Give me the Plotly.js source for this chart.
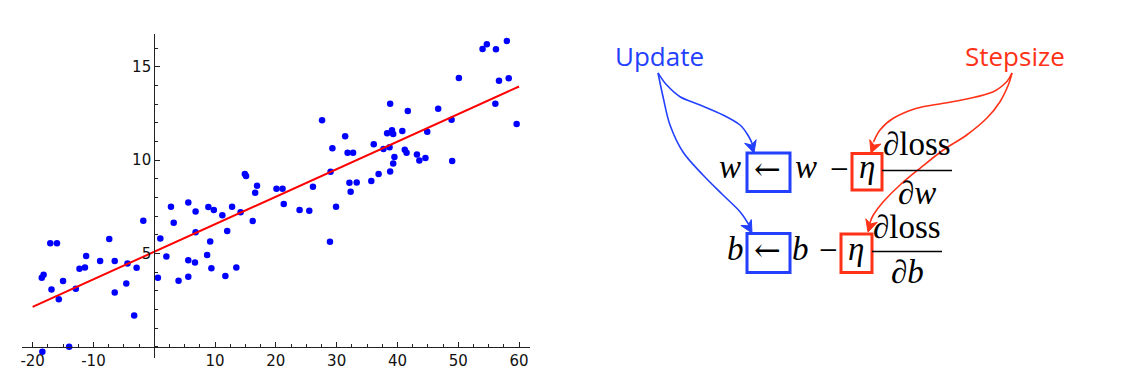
<!DOCTYPE html>
<html><head><meta charset="utf-8">
<script src="https://cdn.plot.ly/plotly-3.0.1.min.js"></script>
<style>html,body{margin:0;padding:0;background:#fff;}</style>
</head><body><div id="chart" style="width:1121px;height:385px;"></div>
<script>
// ---- data ----
const pointX = [-18.5,-18.2,-17.1,-16.0,-16.9,-15.7,-15.0,-18.4,-14.0,-12.9,-12.3,-11.4,-11.2,-8.9,-7.4,-6.5,-6.5,-4.6,-4.4,-3.3,-2.9,-1.8,
  0.6,1.0,2.0,2.75,3.2,4.0,5.6,5.6,5.6,6.7,6.8,6.8,8.7,8.9,9.2,9.4,9.8,11.2,11.7,12.0,12.8,13.5,14.2,14.9,15.1,16.2,16.6,16.9,20.1,
  21.1,21.3,23.9,25.5,26.1,27.6,28.9,29.0,29.3,29.9,31.4,31.8,32.1,32.3,32.7,33.3,35.7,36.1,36.9,37.7,38.3,38.7,38.8,38.8,39.1,39.3,39.3,39.5,
  40.8,41.2,41.5,41.7,43.2,43.6,44.6,44.9,46.7,48.9,49.0,50.1,54.0,54.7,56.2,56.1,56.7,58.0,58.3,59.6];
const pointY = [3.70,3.86,5.55,5.55,3.07,2.54,3.52,-0.27,0.0,3.11,4.18,4.25,4.86,4.59,5.77,4.59,2.91,3.39,4.46,1.68,4.23,6.75,
  3.70,5.80,4.84,7.5,6.64,3.54,7.73,4.64,3.75,4.52,7.25,6.14,4.91,7.48,5.64,4.21,7.32,7.04,3.79,6.20,7.5,4.25,7.21,9.25,9.14,6.73,8.25,8.63,8.46,
  8.46,7.64,7.32,7.29,8.57,12.13,5.63,9.38,10.63,7.5,11.27,10.39,8.79,8.30,10.39,8.80,8.88,10.84,9.25,10.59,11.43,10.68,13.02,9.39,11.59,11.39,9.82,10.16,
  11.55,10.55,10.39,12.63,10.30,9.98,10.11,11.52,12.75,12.16,9.95,14.39,15.95,16.20,15.93,13.02,14.25,16.38,14.38,11.93];
const fitX = [-20, 60];
const fitY = [2.14, 13.94];
const xTickVals = [-20,-10,10,20,30,40,50,60];
const xTickText = ["-20","-10","10","20","30","40","50","60"];
const yTickVals = [5,10,15];
const yTickText = ["5","10","15"];
const updateLabel = "Update";
const stepLabel = "Stepsize";

// ---- pixel helpers for the diagram on the right ----
const W = 1121, H = 385;
const PX = x => x / W;
const PY = y => 1 - y / H;

const BLUE = '#2340ff', RED = '#ff3218';

function smoothPath(pts){
  const p = pts;
  let d = 'M' + PX(p[0][0]) + ',' + PY(p[0][1]);
  for (let i = 0; i < p.length - 1; i++){
    const p0 = p[Math.max(i-1,0)], p1 = p[i], p2 = p[i+1], p3 = p[Math.min(i+2,p.length-1)];
    const c1 = [p1[0] + (p2[0]-p0[0])/6, p1[1] + (p2[1]-p0[1])/6];
    const c2 = [p2[0] - (p3[0]-p1[0])/6, p2[1] - (p3[1]-p1[1])/6];
    d += ' C' + PX(c1[0]) + ',' + PY(c1[1]) + ' ' + PX(c2[0]) + ',' + PY(c2[1]) + ' ' + PX(p2[0]) + ',' + PY(p2[1]);
  }
  return d;
}
function headPath(tip, from, L, hw){
  const dx = tip[0]-from[0], dy = tip[1]-from[1];
  const n = Math.hypot(dx,dy), ux = dx/n, uy = dy/n;
  const bx = tip[0]-ux*L, by = tip[1]-uy*L;
  const nx = -uy, ny = ux;
  const a = [bx+nx*hw, by+ny*hw], b = [bx-nx*hw, by-ny*hw];
  const m = [tip[0]-ux*L*0.7, tip[1]-uy*L*0.7];
  return 'M'+PX(tip[0])+','+PY(tip[1])+' L'+PX(a[0])+','+PY(a[1])+' L'+PX(m[0])+','+PY(m[1])+' L'+PX(b[0])+','+PY(b[1])+' Z';
}

const curves = [
  {c: BLUE, pts: [[658,73],[666.7,85],[680,96.7],[700,105],[723,115],[740,125],[749,137],[753,146]], tip:[754,153]},
  {c: BLUE, pts: [[658,73],[663.3,98],[670,125],[683,152],[703,175],[723,195],[740,211.7],[749,225]], tip:[752,233]},
  {c: RED, pts: [[1012,73],[1006.7,81.7],[993.3,91.7],[970,98.3],[943.3,103.3],[916.7,108.3],[893.3,118.3],[880,130],[873.5,142]], tip:[871,153]},
  {c: RED, pts: [[1012,73],[1008.3,85],[1000,101.7],[986.7,118.3],[966.7,135],[943.3,150],[920,168.3],[900,185],[883.3,201.7],[873.3,215],[869.5,224]], tip:[868,232]}
];

const shapes = [];
curves.forEach(cv => {
  shapes.push({type:'path', xref:'paper', yref:'paper', path: smoothPath(cv.pts), line:{color:cv.c, width:1.6}});
  const last = cv.pts[cv.pts.length-2];
  shapes.push({type:'path', xref:'paper', yref:'paper', path: headPath(cv.tip, last, 12, 6), fillcolor: cv.c, line:{color:cv.c, width:1}});
});
function box(x0,y0,x1,y1,c){
  shapes.push({type:'rect', xref:'paper', yref:'paper', x0:PX(x0), x1:PX(x1), y0:PY(y1), y1:PY(y0), line:{color:c, width:3}});
}
box(747,153,790,191.5,BLUE);
box(747,233.5,790,272.5,BLUE);
box(852,153.5,882,190,RED);
box(841,234,872,272.5,RED);
function hline(x0,x1,y){
  shapes.push({type:'line', xref:'paper', yref:'paper', x0:PX(x0), x1:PX(x1), y0:PY(y), y1:PY(y), line:{color:'#000', width:1.3}});
}
hline(882,952,170.5);
hline(872,942,251.5);

const annotations = [];
function serif(txt, cx, baseline, size, fam){
  size = size || 32;
  annotations.push({xref:'paper', yref:'paper', x:PX(cx), y:PY(baseline - 0.3375*size), xanchor:'center', yanchor:'middle',
    text: txt, showarrow:false, font:{family: fam || 'Liberation Serif, DejaVu Serif, serif', size:size, color:'#000'}});
}
const ARROWFONT = 'DejaVu Serif, serif';
// row 1
serif('<i>w</i>', 730, 178, 33);
serif('\u2190', 768, 180, 32, ARROWFONT);
serif('<i>w</i>', 806, 178, 33);
serif('\u2212', 839, 180, 33);
serif('<i>\u03b7</i>', 867, 178, 33);
serif('\u2202loss', 917, 155, 33);
serif('\u2202<i>w</i>', 917, 204, 33);
// row 2
serif('<i>b</i>', 735, 260, 33);
serif('\u2190', 768, 261, 32, ARROWFONT);
serif('<i>b</i>', 800, 260, 33);
serif('\u2212', 828, 261, 33);
serif('<i>\u03b7</i>', 856, 260, 33);
serif('\u2202loss', 907, 238, 33);
serif('\u2202<i>b</i>', 907, 283, 33);

annotations.push({xref:'paper', yref:'paper', x:PX(659), y:PY(56), xanchor:'center', yanchor:'middle', text:updateLabel, showarrow:false,
  font:{family:'Open Sans, Noto Sans, sans-serif', size:26, color:BLUE}});
annotations.push({xref:'paper', yref:'paper', x:PX(1015), y:PY(56), xanchor:'center', yanchor:'middle', text:stepLabel, showarrow:false,
  font:{family:'Open Sans, Noto Sans, sans-serif', size:26, color:RED}});

const traces = [
  {x: pointX, y: pointY, type:'scatter', mode:'markers', marker:{color:'#0000ff', size:6.5}, hoverinfo:'x+y', showlegend:false},
  {x: fitX, y: fitY, type:'scatter', mode:'lines', line:{color:'#ff0000', width:2}, hoverinfo:'skip', showlegend:false}
];

const axisFont = {family:'DejaVu Sans, sans-serif', size:15, color:'#111'};
const layout = {
  width: W, height: H, autosize:false,
  margin:{l:0,r:0,t:0,b:0,pad:0},
  paper_bgcolor:'#fff', plot_bgcolor:'rgba(0,0,0,0)',
  showlegend:false,
  xaxis:{domain:[22/W, 530/W], range:[-21.75, 61.8], anchor:'free', position:(H-346.8)/H,
    showgrid:false, zeroline:false, showline:true, linecolor:'#222', linewidth:1,
    tickmode:'array', tickvals:xTickVals, ticktext:xTickText, ticks:'inside', ticklen:5, tickcolor:'#222', tickwidth:1,
    minor:{tickmode:'linear', tick0:0, dtick:2.5, ticks:'inside', ticklen:3, tickcolor:'#222', tickwidth:1, showgrid:false},
    tickfont:axisFont, fixedrange:true},
  yaxis:{domain:[(H-358)/H, (H-34)/H], range:[-0.6, 16.75], anchor:'free', position:154.2/W,
    showgrid:false, zeroline:false, showline:true, linecolor:'#222', linewidth:1,
    tickmode:'array', tickvals:yTickVals, ticktext:yTickText, ticks:'inside', ticklen:5, tickcolor:'#222', tickwidth:1,
    minor:{tickmode:'linear', tick0:0, dtick:1, ticks:'inside', ticklen:3, tickcolor:'#222', tickwidth:1, showgrid:false},
    tickfont:axisFont, fixedrange:true},
  shapes: shapes,
  annotations: annotations
};
Plotly.newPlot('chart', traces, layout, {displayModeBar:false, staticPlot:true});
</script></body></html>
